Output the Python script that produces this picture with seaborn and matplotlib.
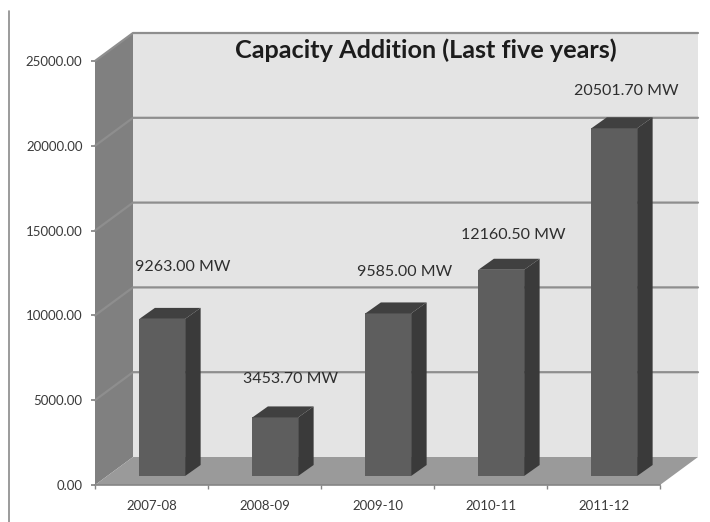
import matplotlib
matplotlib.use('Agg')
import matplotlib.pyplot as plt
import seaborn as sns
from matplotlib.lines import Line2D
from matplotlib.patches import Polygon
from matplotlib.transforms import IdentityTransform

years = ['2007-08', '2008-09', '2009-10', '2010-11', '2011-12']
capacity = [9263.00, 3453.70, 9585.00, 12160.50, 20501.70]
bar_labels = ['9263.00 MW', '3453.70 MW', '9585.00 MW', '12160.50 MW', '20501.70 MW']
y_ticks = [0, 5000, 10000, 15000, 20000, 25000]

# label offsets from the bar top, in points
label_dx = [15, 11, 12, 9, 9]
label_dy = [37.5, 27.5, 29.5, 25, 26.5]

W, H = 710, 522
WALL_DX, WALL_DY = 38, 28
BAR_DX, BAR_DY = 15.5, 11


def px_rect(x0, x1, y_bottom, y_top):
    return [x0 / W, 1 - y_bottom / H, (x1 - x0) / W, (y_bottom - y_top) / H]


sns.set_theme(style='white')
plt.rcParams['font.family'] = ['Lato', 'DejaVu Sans']

fig = plt.figure(figsize=(W / 100, H / 100), dpi=100)
fig.patch.set_facecolor('white')

# front plane, holds the ticks and the box walls
ax = fig.add_axes(px_rect(95, 660, 485, 61))
ax.set_xlim(-0.5, 4.5)
ax.set_ylim(0, 25000)
ax.patch.set_visible(False)
sns.despine(ax=ax, top=True, right=True)
ax.spines['left'].set_visible(False)
ax.spines['bottom'].set_color('#858585')
ax.spines['bottom'].set_linewidth(1.2)
ax.set_xticks(range(5))
ax.set_xticklabels(years)
ax.set_xticks([i - 0.5 for i in range(6)], minor=True)
ax.set_yticks(y_ticks)
ax.set_yticklabels([f'{v:.2f}' for v in y_ticks])
ax.tick_params(axis='x', which='major', length=0, pad=11, labelsize=9.5, labelcolor='#3a3a3a')
ax.tick_params(axis='x', which='minor', length=3, color='#858585', bottom=True)
ax.tick_params(axis='y', length=3, color='#858585', left=True, pad=6, labelsize=9.5, labelcolor='#3a3a3a')


def front(x, v):
    return ax.transData.transform((x, v))


def back(x, v):
    return front(x, v) + (WALL_DX, WALL_DY)


walls = [
    ([back(-0.5, 0), back(-0.5, 25000), back(4.5, 25000), back(4.5, 0)], '#e4e4e4'),
    ([front(-0.5, 0), front(-0.5, 25000), back(-0.5, 25000), back(-0.5, 0)], '#808080'),
    ([front(-0.5, 0), back(-0.5, 0), back(4.5, 0), front(4.5, 0)], '#9a9a9a'),
]
for pts, col in walls:
    ax.add_patch(Polygon(pts, closed=True, fc=col, ec='none', transform=IdentityTransform(),
                         clip_on=False, zorder=0.5))

for v in y_ticks[1:]:
    a, b, c = front(-0.5, v), back(-0.5, v), back(4.5, v)
    ax.add_line(Line2D([a[0], b[0], c[0]], [a[1], b[1], c[1]], color='#8e8e8e', lw=1.6,
                       transform=IdentityTransform(), clip_on=False, zorder=0.8))

# bars sit halfway into the box depth
ax_bars = fig.add_axes(px_rect(105.75, 670.75, 476, 52))
sns.barplot(x=years, y=capacity, color='#5e5e5e', saturation=1, width=0.405, linewidth=0,
            edgecolor='none', ax=ax_bars)
ax_bars.set_xlim(-0.5, 4.5)
ax_bars.set_ylim(0, 25000)
ax_bars.set_axis_off()

for i, bar in enumerate(ax_bars.patches):
    x0, x1 = bar.get_x(), bar.get_x() + bar.get_width()
    h = bar.get_height()
    bl, br = ax_bars.transData.transform([(x0, 0), (x1, 0)])
    tl, tr = ax_bars.transData.transform([(x0, h), (x1, h)])
    d = (BAR_DX, BAR_DY)
    ax_bars.add_patch(Polygon([br, tr, tr + d, br + d], closed=True, fc='#3a3a3a', ec='none',
                              transform=IdentityTransform(), clip_on=False))
    ax_bars.add_patch(Polygon([tl, tr, tr + d, tl + d], closed=True, fc='#404040', ec='none',
                              transform=IdentityTransform(), clip_on=False))
    ax_bars.annotate(bar_labels[i], xy=((x0 + x1) / 2, h), xytext=(label_dx[i], label_dy[i]),
                     textcoords='offset points', ha='center', va='center', fontsize=11.5,
                     color='#2e2e2e', annotation_clip=False)

fig.text(426 / W, 1 - 50 / H, 'Capacity Addition (Last five years)', ha='center', va='center',
         fontsize=18.2, fontweight='bold', color='#1c1c1c')

# rule down the left of the page
fig.add_artist(Line2D([9 / W, 9 / W], [0, 1 - 11 / H], color='#8a8a8a', lw=1.2))

fig.savefig('out.png', dpi=100)
